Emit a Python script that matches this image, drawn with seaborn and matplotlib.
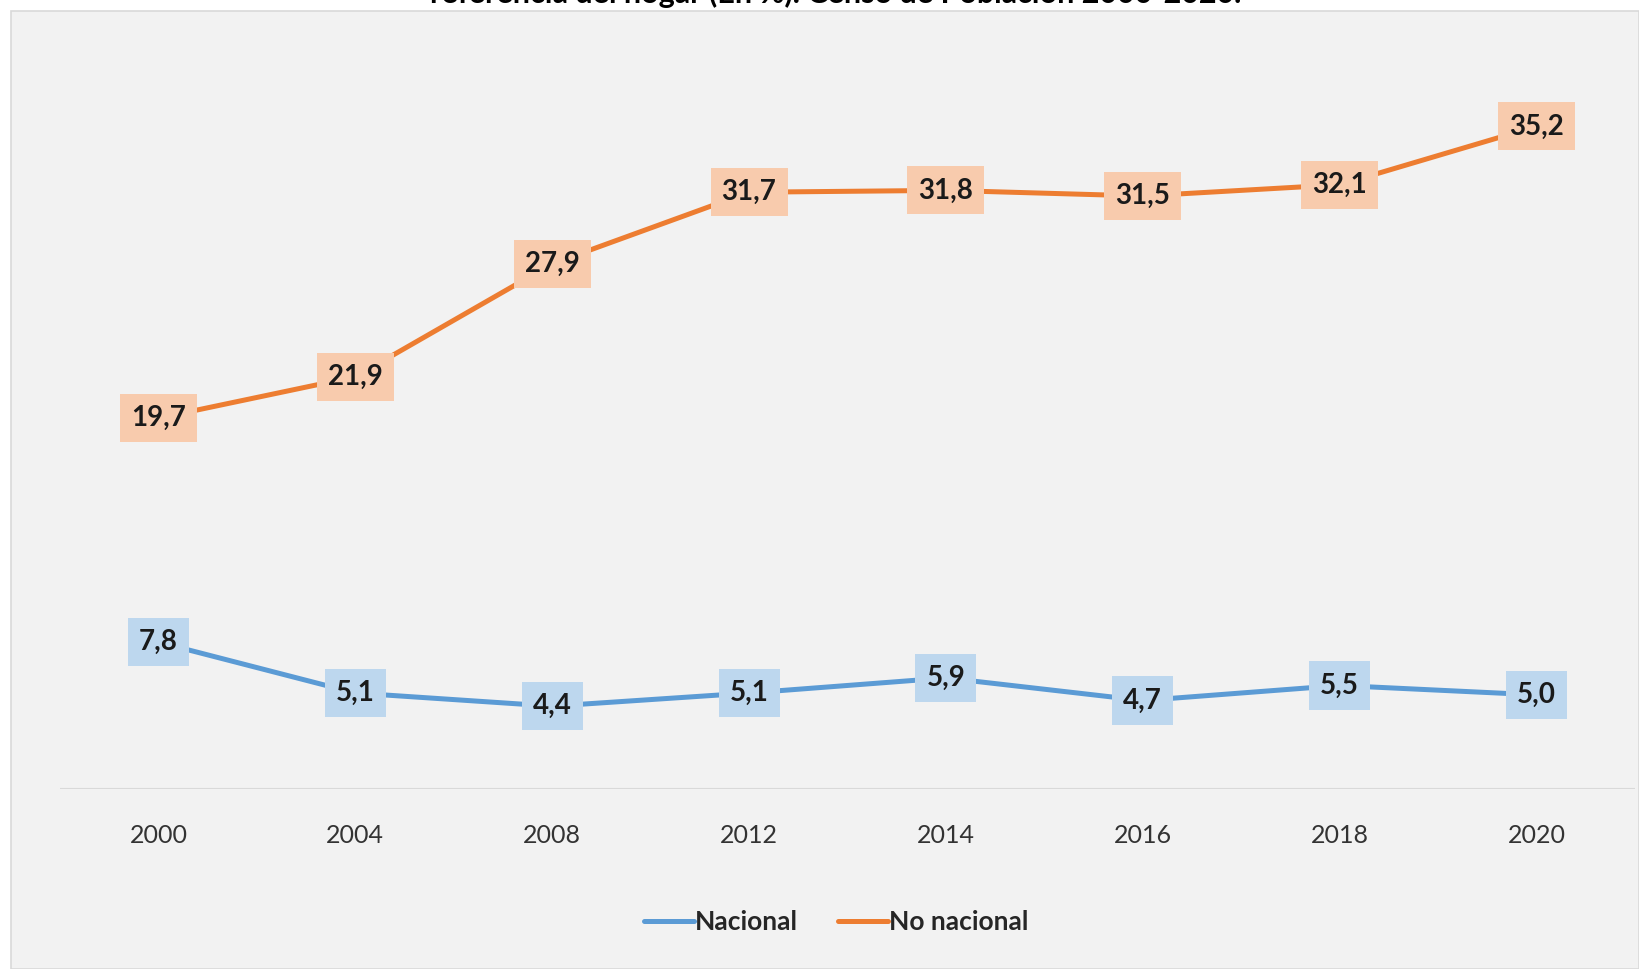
import pandas as pd
import seaborn as sns
import matplotlib.pyplot as plt
from matplotlib.patches import Rectangle

# datos
anios = ['2000', '2004', '2008', '2012', '2014', '2016', '2018', '2020']
nacional = [7.8, 5.1, 4.4, 5.1, 5.9, 4.7, 5.5, 5.0]
no_nacional = [19.7, 21.9, 27.9, 31.7, 31.8, 31.5, 32.1, 35.2]
series = ['Nacional', 'No nacional']

df = pd.DataFrame({
    'Año': anios * 2,
    'Valor': nacional + no_nacional,
    'Serie': [series[0]] * len(anios) + [series[1]] * len(anios),
})

sns.set_theme(style='white')
plt.rcParams['font.family'] = ['Lato', 'DejaVu Sans']

colores = {'Nacional': '#5B9BD5', 'No nacional': '#ED7D31'}
fondos = {'Nacional': '#BDD7EE', 'No nacional': '#F8CBAD'}

fig = plt.figure(figsize=(16.39, 9.69), dpi=100)
fig.patch.set_facecolor('white')
# panel gris de fondo
fig.patches.append(Rectangle((11 / 1639, 0), 1 - 11 / 1639, 1 - 11 / 969,
                             transform=fig.transFigure, facecolor='#F2F2F2',
                             edgecolor='#D9D9D9', linewidth=1.2, zorder=-5))

ax = fig.add_axes([60 / 1639, 1 - 789 / 969, (1635 - 60) / 1639, (789 - 36) / 969])
ax.set_facecolor('none')

sns.lineplot(data=df, x='Año', y='Valor', hue='Serie', palette=colores,
             linewidth=3.6, ax=ax, legend=False, sort=False)

for serie, valores in zip(series, [nacional, no_nacional]):
    for i, v in enumerate(valores):
        ax.text(i, v, f'{v:.1f}'.replace('.', ','), ha='center', va='center',
                fontsize=20, fontweight='bold', color='#1A1A1A', zorder=5,
                bbox=dict(boxstyle='square,pad=0.4', facecolor=fondos[serie],
                          edgecolor='none'))

ax.set_xlim(-0.5, len(anios) - 0.5)
ax.set_ylim(0, 40)
ax.axhline(0, color='#D9D9D9', linewidth=1.5, zorder=1)
ax.set_yticks([])
ax.set_xlabel('')
ax.set_ylabel('')
ax.tick_params(axis='x', length=0, pad=25, labelsize=18, labelcolor='#333333')
sns.despine(ax=ax, left=True, bottom=True)

# titulo (cortado en la parte superior de la imagen, como en el original)
fig.text(836 / 1639, 1 - 3 / 969,
         'referencia del hogar (En %). Censo de Población 2000-2020.',
         ha='center', va='baseline', fontsize=22, fontweight='bold', color='black')

handles = [plt.Line2D([], [], color=colores[s], linewidth=3.6) for s in series]
fig.legend(handles, series, loc='center', bbox_to_anchor=(836 / 1639, 1 - 922 / 969),
           ncol=2, frameon=False, handlelength=1.9,
           handletextpad=0.05, columnspacing=1.5,
           prop={'weight': 'bold', 'size': 19})

fig.savefig('out.png', dpi=100, facecolor=fig.get_facecolor())
